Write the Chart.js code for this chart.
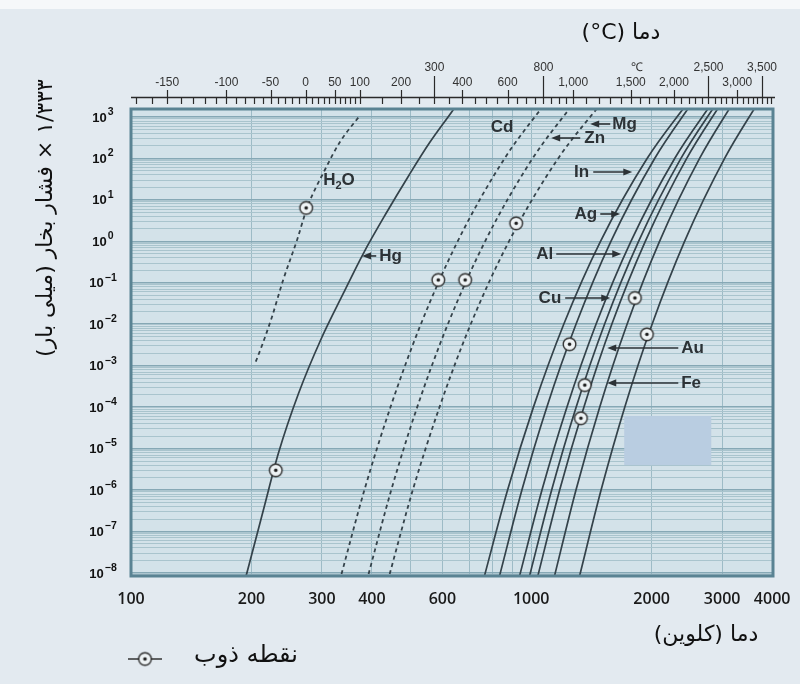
<!DOCTYPE html>
<html><head><meta charset="utf-8">
<script src="https://cdn.jsdelivr.net/npm/chart.js@4.4.1/dist/chart.umd.min.js"></script>
<style>
html,body{margin:0;padding:0;background:#e3eaf0;}
canvas{display:block;}
</style></head><body>
<canvas id="c" width="800" height="684"></canvas>
<script>
// ---------- DATA (temperature in K, vapour pressure) ----------
const pressureLevels = [6.3e-9, 1e-6, 1e-4, 1e-2, 1, 1e2, 2.5e3];
const tIn = [758, 873, 1013, 1206, 1490, 1948, 2484];
const tAg = [827, 948, 1094, 1294, 1582, 2035, 2546];
const tAl = [928, 1064, 1228, 1452, 1775, 2283, 2856];
const tCu = [983, 1125, 1295, 1525, 1855, 2367, 2934];
const tAu = [1031, 1178, 1354, 1590, 1928, 2447, 3014];
const tFe = [1135, 1294, 1483, 1736, 2093, 2635, 3219];
const tTi = [1311, 1495, 1713, 2005, 2417, 3043, 3716];
const tCd = [332, 383, 445, 530, 655, 858, 1097];
const tZn = [388, 447, 519, 619, 767, 1008, 1292];
const tMg = [438, 506, 590, 706, 880, 1168, 1515];
const h2oT = [205, 212, 225, 240, 260, 276, 305, 333, 374];
const h2oP = [1.25e-3, 2.9e-3, 1.5e-2, 0.117, 1.08, 6.8, 52.6, 253, 1117];
const hgT = [191, 194.7, 214.2, 233.5, 262.3, 297.8, 339.5, 380.9, 434, 495.5, 556, 633.5, 664];
const hgP = [5e-9, 9.8e-9, 3.3e-7, 7.7e-6, 2.16e-4, 4.17e-3, 5.6e-2, 0.515, 4.75, 40, 232, 1343, 2570];
// melting points
const mpT = [274, 230, 586, 684, 917, 1247, 1361, 1331, 1816, 1946];
const mpP = [6.4, 3.0e-6, 0.117, 0.117, 2.73, 3.3e-3, 3.4e-4, 5.4e-5, 0.043, 5.7e-3];

// ---------- TICKS ----------
const yTickValues = [1e3,1e2,1e1,1,1e-1,1e-2,1e-3,1e-4,1e-5,1e-6,1e-7,1e-8];
const yTickBase = '10';
const yTickExponents = ['3','2','1','0','−1','−2','−3','−4','−5','−6','−7','−8'];
const xTickValues = [100,200,300,400,600,1000,2000,3000,4000];
const xTickLabels = ['100','200','300','400','600','1000','2000','3000','4000'];
const xGridValues = [100,200,300,400,500,600,700,800,900,1000,2000,3000,4000];
const cRow2 = [-150,-100,-50,0,50,100,200,400,600,1000,1500,2000,3000];
const cRow2Labels = ['-150','-100','-50','0','50','100','200','400','600','1,000','1,500','2,000','3,000'];
const cRow1 = [300,800,2500,3500];
const cRow1Labels = ['300','800','2,500','3,500'];
const cMinor = [-170,-160,-140,-130,-120,-110,-90,-80,-70,-60,-40,-30,-20,-10,10,20,30,40,60,70,80,90,150,250,350,450,500,550,650,700,750,850,900,950,1100,1200,1300,1400,1600,1700,1800,1900,2100,2200,2300,2400,2600,2700,2800,2900,3100,3200,3300,3400,3600,3700];
const cUnit = {text:'℃', celsius:1568};

// ---------- ANNOTATIONS (data coordinates) ----------
const curveLabels = [
  {text:'Hg', T:417, P:0.444, align:'left', arrow:[410,378]},
  {text:'Cd', T:846, P:574, align:'center'},
  {text:'Mg', T:1594, P:678, align:'left', arrow:[1576,1404]},
  {text:'Zn', T:1357, P:311, align:'left', arrow:[1326,1122]},
  {text:'In', T:1396, P:47.1, align:'right', arrow:[1429,1789]},
  {text:'Ag', T:1462, P:4.57, align:'right', arrow:[1488,1669]},
  {text:'Al', T:1135, P:0.496, align:'right', arrow:[1155,1679]},
  {text:'Cu', T:1189, P:0.043, align:'right', arrow:[1216,1576]},
  {text:'Au', T:2371, P:2.67e-3, align:'left', arrow:[2331,1549]},
  {text:'Fe', T:2371, P:3.83e-4, align:'left', arrow:[2331,1549]}
];
const h2oLabel = {T:331, P:30.2};
const maskPatch = {T:[1708,2818], P:[4.0e-6,6.1e-5]};

const toK = c => c + 273.15;
const yMin = Math.pow(10,-8.074), yMax = Math.pow(10,3.193);
const xMin = 100, xMax = 4020;

function pts(T, P){ return T.map((t,i)=>({x:t, y:P[i]})); }

// melting-point marker
function makeMarker(){
  const cv = document.createElement('canvas'); cv.width = 17; cv.height = 17;
  const c = cv.getContext('2d');
  c.beginPath(); c.arc(8.5,8.5,6.3,0,Math.PI*2); c.fillStyle='#eef3f5'; c.fill();
  c.lineWidth=1.4; c.strokeStyle='#2e2e2e'; c.stroke();
  c.beginPath(); c.arc(8.5,8.5,1.8,0,Math.PI*2); c.fillStyle='#1e1e1e'; c.fill();
  return cv;
}
const marker = makeMarker();

const LINE = '#34424a';
function solid(label, T, P){ return {label, data:pts(T, P||pressureLevels), borderColor:LINE, borderWidth:1.7, pointRadius:0, cubicInterpolationMode:'monotone', fill:false}; }
function dashed(label, T, P){ return {label, data:pts(T, P||pressureLevels), borderColor:LINE, borderWidth:1.8, borderDash:[4,3.5], pointRadius:0, cubicInterpolationMode:'monotone', fill:false}; }

const datasets = [
  dashed('H2O', h2oT, h2oP),
  solid('Hg', hgT, hgP),
  dashed('Cd', tCd), dashed('Zn', tZn), dashed('Mg', tMg),
  solid('In', tIn), solid('Ag', tAg), solid('Al', tAl), solid('Cu', tCu),
  solid('Au', tAu), solid('Fe', tFe), solid('Ti', tTi),
  {label:'نقطه ذوب', data:pts(mpT, mpP), showLine:false, pointStyle:marker, pointRadius:7, order:-1}
];

function isPow10(v){ const l = Math.log10(v); return Math.abs(l-Math.round(l))<1e-6; }

const decor = {
  id:'decor',
  beforeDraw(chart){
    const {ctx, chartArea:a} = chart;
    ctx.save();
    ctx.fillStyle='#e3eaf0'; ctx.fillRect(0,0,chart.width,chart.height);
    ctx.fillStyle='#f6f8fa'; ctx.fillRect(0,0,chart.width,9);
    ctx.fillStyle='#d3e2e9'; ctx.fillRect(a.left,a.top,a.right-a.left,a.bottom-a.top);
    ctx.restore();
  },
  beforeDatasetsDraw(chart){
    const {ctx} = chart; const X = chart.scales.x, Y = chart.scales.y;
    const x1 = X.getPixelForValue(maskPatch.T[0]), x2 = X.getPixelForValue(maskPatch.T[1]);
    const y1 = Y.getPixelForValue(maskPatch.P[1]), y2 = Y.getPixelForValue(maskPatch.P[0]);
    ctx.save(); ctx.fillStyle='#b9cde1'; ctx.fillRect(x1,y1,x2-x1,y2-y1); ctx.restore();
  },
  afterDatasetsDraw(chart){
    const {ctx, chartArea:a} = chart; const X = chart.scales.x, Y = chart.scales.y, XT = chart.scales.xTop;
    ctx.save();
    // frame
    ctx.strokeStyle='#5a8393'; ctx.lineWidth=3;
    ctx.strokeRect(a.left, a.top, a.right-a.left, a.bottom-a.top);
    // y tick labels 10^n
    ctx.fillStyle='#111'; ctx.textBaseline='middle'; ctx.textAlign='left';
    yTickValues.forEach((v,i)=>{
      const y = Y.getPixelForValue(v);
      ctx.font='bold 13px "Liberation Sans", Arial, sans-serif';
      const wb = ctx.measureText(yTickBase).width;
      ctx.font='bold 10.5px "Liberation Sans", Arial, sans-serif';
      const we = ctx.measureText(yTickExponents[i]).width;
      const x0 = 103 - (wb+we+1)/2;
      ctx.font='bold 13px "Liberation Sans", Arial, sans-serif';
      ctx.fillText(yTickBase, x0, y+1);
      ctx.font='bold 10.5px "Liberation Sans", Arial, sans-serif';
      ctx.fillText(yTickExponents[i], x0+wb+1, y-5);
    });
    // curve labels
    ctx.fillStyle='#2c3236'; ctx.strokeStyle='#2c3236'; ctx.lineWidth=1.6;
    ctx.font='bold 17px "Liberation Sans", Arial, sans-serif'; ctx.textBaseline='middle';
    curveLabels.forEach(l=>{
      const y = Y.getPixelForValue(l.P);
      ctx.textAlign = l.align;
      ctx.fillText(l.text, X.getPixelForValue(l.T), y);
      if (l.arrow){
        const xa = X.getPixelForValue(l.arrow[0]), xb = X.getPixelForValue(l.arrow[1]);
        const d = xb>xa?1:-1;
        ctx.beginPath(); ctx.moveTo(xa,y); ctx.lineTo(xb-d*6,y); ctx.stroke();
        ctx.beginPath(); ctx.moveTo(xb,y); ctx.lineTo(xb-d*9,y-3.6); ctx.lineTo(xb-d*9,y+3.6); ctx.closePath(); ctx.fill();
      }
    });
    // H2O label with subscript
    {
      const cx = X.getPixelForValue(h2oLabel.T), cy = Y.getPixelForValue(h2oLabel.P);
      ctx.font='bold 17px "Liberation Sans", Arial, sans-serif';
      const wH = ctx.measureText('H').width, wO = ctx.measureText('O').width;
      ctx.font='bold 11px "Liberation Sans", Arial, sans-serif';
      const w2 = ctx.measureText('2').width;
      let x0 = cx - (wH+w2+wO)/2;
      ctx.textAlign='left';
      ctx.font='bold 17px "Liberation Sans", Arial, sans-serif'; ctx.fillText('H', x0, cy);
      ctx.font='bold 11px "Liberation Sans", Arial, sans-serif'; ctx.fillText('2', x0+wH, cy+6);
      ctx.font='bold 17px "Liberation Sans", Arial, sans-serif'; ctx.fillText('O', x0+wH+w2, cy);
    }
    // Celsius ruler
    const base = 97.5, bot = 104;
    ctx.strokeStyle='#2a2a2a'; ctx.lineWidth=1.3;
    ctx.beginPath(); ctx.moveTo(a.left, base); ctx.lineTo(a.right+2, base); ctx.stroke();
    ctx.lineWidth=1.2;
    const tick=(c,top)=>{ const x = Math.round(XT.getPixelForValue(toK(c)))+0.5; ctx.beginPath(); ctx.moveTo(x,top); ctx.lineTo(x,bot); ctx.stroke(); };
    cMinor.forEach(c=>tick(c, base));
    cRow2.forEach(c=>tick(c, 90));
    cRow1.forEach(c=>tick(c, 76));
    // titles
    ctx.fillStyle='#111'; ctx.textAlign='center'; ctx.textBaseline='middle';
    ctx.font='22px "DejaVu Sans", sans-serif';
    ctx.direction='ltr';
    ctx.fillText('(°C) دما', 621, 33);
    ctx.direction='rtl';
    ctx.fillText('دما (کلوین)', 706, 635);
    ctx.save(); ctx.translate(46, 218); ctx.rotate(-Math.PI/2);
    ctx.font='22px "DejaVu Sans", sans-serif';
    ctx.fillText('۱/۳۳۳ × فشار بخار (میلی بار)', 0, 0);
    ctx.restore();
    // legend
    ctx.direction='ltr';
    ctx.strokeStyle='#333'; ctx.lineWidth=1.4;
    ctx.beginPath(); ctx.moveTo(128,659); ctx.lineTo(162,659); ctx.stroke();
    ctx.drawImage(marker, 145-8.5, 659-8.5);
    ctx.direction='rtl'; ctx.font='24px "DejaVu Sans", sans-serif'; ctx.textAlign='center';
    ctx.fillText(datasets[datasets.length-1].label, 246, 656);
    ctx.restore();
  }
};

new Chart(document.getElementById('c'), {
  type:'line',
  data:{datasets},
  plugins:[decor],
  options:{
    responsive:false, animation:false, events:[],
    layout:{padding:{left:0,right:27,top:0,bottom:0}},
    plugins:{legend:{display:false}, tooltip:{enabled:false}},
    scales:{
      x:{type:'logarithmic', position:'bottom', min:xMin, max:xMax,
        afterBuildTicks:s=>{ s.ticks = xGridValues.map(v=>({value:v})); },
        afterFit:s=>{ s.height=108; s.paddingLeft=0; s.paddingRight=0; },
        grid:{color:'#9dbbc6', lineWidth:1, drawTicks:false},
        border:{display:false},
        ticks:{autoSkip:false, maxRotation:0, padding:14, color:'#1a1a1a',
          font:{family:'"Open Sans", sans-serif', size:16, weight:'600'},
          callback:(v)=>{ const i = xTickValues.indexOf(v); return i>=0 ? xTickLabels[i] : ''; }}
      },
      xTop:{type:'logarithmic', position:'top', min:xMin, max:xMax,
        afterBuildTicks:s=>{
          const t = cRow2.map(c=>({value:toK(c)})).concat(cRow1.map(c=>({value:toK(c)})), [{value:toK(cUnit.celsius)}]);
          t.sort((p,q)=>p.value-q.value); s.ticks = t; },
        afterFit:s=>{ s.height=109; s.paddingLeft=0; s.paddingRight=0; },
        grid:{display:false, drawTicks:false}, border:{display:false},
        ticks:{autoSkip:false, maxRotation:0, padding:19.5, color:'#333',
          font:{family:'"Liberation Sans", sans-serif', size:12},
          callback:(v)=>{
            const c = Math.round(v-273.15);
            let i = cRow2.indexOf(c); if (i>=0) return cRow2Labels[i];
            i = cRow1.indexOf(c); if (i>=0) return [cRow1Labels[i], ''];
            if (c===cUnit.celsius) return [cUnit.text, ''];
            return '';
          }}
      },
      y:{type:'logarithmic', position:'left', min:yMin, max:yMax,
        afterBuildTicks:s=>{
          const t=[]; for(let e=-9;e<=3;e++){ for(let m=1;m<=9;m++){ const v = m*Math.pow(10,e); if(v>=yMin && v<=yMax) t.push({value:v}); } }
          s.ticks=t; },
        afterFit:s=>{ s.width=131; s.paddingTop=0; s.paddingBottom=0; },
        grid:{drawTicks:false,
          color:(c)=> isPow10(c.tick.value) ? '#86a8b5' : '#a9c4cd',
          lineWidth:(c)=> isPow10(c.tick.value) ? 1.6 : 1},
        border:{display:false},
        ticks:{display:false}
      }
    }
  }
});
</script>
</body></html>
